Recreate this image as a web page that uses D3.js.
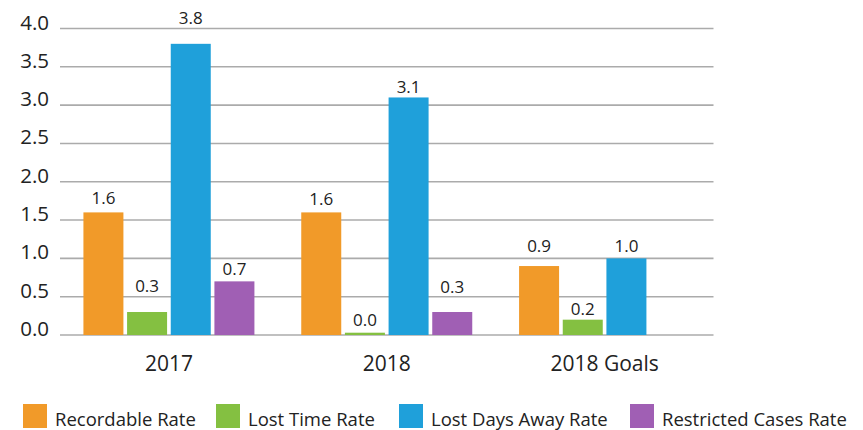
<!DOCTYPE html>
<html><head><meta charset="utf-8">
<script src="https://cdn.jsdelivr.net/npm/d3@7"></script>
<style>body{margin:0;background:#fff;} text{font-family:"Open Sans",sans-serif;fill:#222;}</style>
</head><body>
<svg id="chart" width="863" height="430"></svg>
<script>
const categories = ["2017", "2018", "2018 Goals"];
const seriesNames = ["Recordable Rate", "Lost Time Rate", "Lost Days Away Rate", "Restricted Cases Rate"];
const recordableRate = [1.6, 1.6, 0.9];
const lostTimeRate = [0.3, 0.03, 0.2];
const lostDaysAwayRate = [3.8, 3.1, 1.0];
const restrictedCasesRate = [0.7, 0.3, null];
const yTicks = [0, 0.5, 1.0, 1.5, 2.0, 2.5, 3.0, 3.5, 4.0];
const colors = ["#F19A29", "#84C041", "#1FA0DA", "#A05FB4"];
// layout: how far (px) each value label's baseline sits above its bar, per series per category
const labelLift = [[8.4, 7.4, 14.4], [19.7, 7, 4.7], [19.9, 4.8, 6.7], [6.4, 18.7, 0]];

const seriesValues = [recordableRate, lostTimeRate, lostDaysAwayRate, restrictedCasesRate];
const svg = d3.select("#chart");

const x0 = d3.scaleBand().domain(categories).range([60, 713.5]).padding(0);
const groupW = 171;
const off = (x0.bandwidth() - groupW) / 2;
const x1 = d3.scaleBand().domain(seriesNames).range([0, groupW]).paddingInner(0.084).paddingOuter(0);
const y = d3.scaleLinear().domain([0, 4]).range([335, 28.5]);

// gridlines
svg.append("g").selectAll("line").data(yTicks).join("line")
  .attr("x1", 60).attr("x2", 713.5)
  .attr("y1", d => y(d)).attr("y2", d => y(d))
  .attr("stroke", "#ababab").attr("stroke-width", 1.6);

// y labels
svg.append("g").selectAll("text").data(yTicks).join("text")
  .attr("x", 49).attr("y", d => y(d) + 1)
  .attr("text-anchor", "end").attr("font-size", 20.5)
  .text(d => d3.format(".1f")(d));

// bars
const data = [];
categories.forEach((c, i) => seriesNames.forEach((s, j) => {
  const v = seriesValues[j][i];
  if (v !== null && v !== undefined) data.push({c, s, v, j, i});
}));
const g = svg.append("g");
g.selectAll("rect").data(data).join("rect")
  .attr("x", d => x0(d.c) + off + x1(d.s))
  .attr("width", x1.bandwidth())
  .attr("y", d => y(d.v))
  .attr("height", d => y(0) - y(d.v))
  .attr("fill", d => colors[d.j]);
g.selectAll("text").data(data).join("text")
  .attr("x", d => x0(d.c) + off + x1(d.s) + x1.bandwidth() / 2)
  .attr("y", d => y(d.v) - labelLift[d.j][d.i])
  .attr("text-anchor", "middle").attr("font-size", 17)
  .text(d => d3.format(".1f")(d.v));

// x labels
svg.append("g").selectAll("text").data(categories).join("text")
  .attr("x", d => x0(d) + x0.bandwidth() / 2)
  .attr("y", 370.5)
  .attr("text-anchor", "middle").attr("font-size", 21)
  .text(d => d);

// legend
const legendX = [23, 216, 399, 630];
const lg = svg.append("g");
seriesNames.forEach((s, i) => {
  lg.append("rect").attr("x", legendX[i]).attr("y", 404).attr("width", 24).attr("height", 24).attr("fill", colors[i]);
  lg.append("text").attr("x", legendX[i] + 32).attr("y", 426).attr("font-size", 18.5).text(s);
});
</script>
</body></html>
